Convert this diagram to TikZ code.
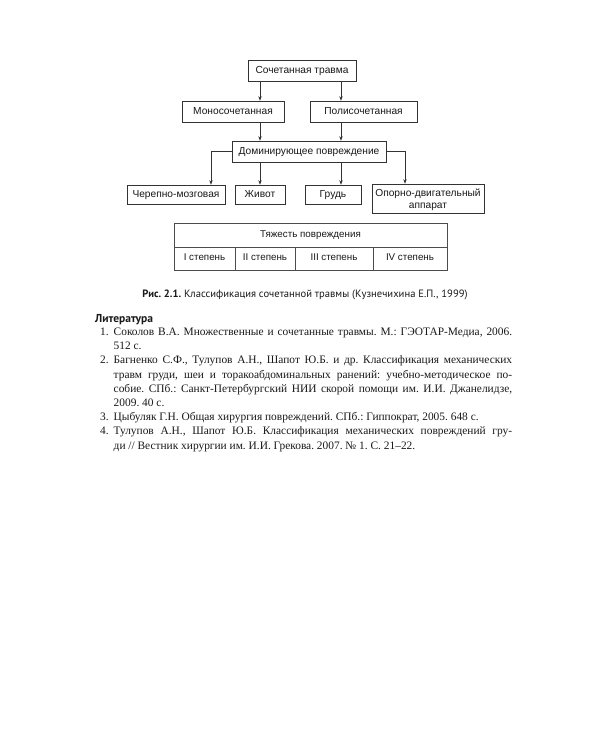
\documentclass[tikz,border=0pt]{standalone}
\usepackage{fontspec}
\setmainfont{Liberation Serif}
\newfontfamily\diagfont{Liberation Sans}
\newfontfamily\capfont{PT Sans}
\usetikzlibrary{arrows.meta}
\frenchspacing
\newcommand\litnum[1]{\makebox[13.5pt][l]{#1}}
\newcommand\litjust[1]{\makebox[398.5pt][s]{#1}}
\begin{document}
\begin{tikzpicture}[x=1pt,y=-1pt,
  box/.style={draw=black!80, line width=0.6pt, inner sep=0pt, font=\diagfont\fontsize{10.2}{12}\selectfont, text=black!90, text height=7.3pt, text depth=2.2pt},
  arr/.style={draw=black!80, line width=0.6pt, -{Stealth[length=4.5pt,width=3.4pt]}},
  cell/.style={draw=black!70, line width=0.6pt, inner sep=0pt, font=\diagfont\fontsize{9.8}{11}\selectfont, text=black!90, text height=7pt, text depth=2.1pt}]
\useasboundingbox[fill=white] (0,0) rectangle (600,750);
% diagram boxes
\node[box, minimum width=108pt, minimum height=21pt] (top) at (302,70.5) {Сочетанная травма};
\node[box, minimum width=102pt, minimum height=21pt] (mono) at (233,111.5) {Моносочетанная};
\node[box, minimum width=107pt, minimum height=21pt] (poli) at (363.5,111.5) {Полисочетанная};
\node[box, minimum width=154pt, minimum height=21pt] (dom) at (309,151.5) {Доминирующее повреждение};
\node[box, minimum width=98pt, minimum height=19pt] (cher) at (176,194.5) {Черепно-мозговая};
\node[box, minimum width=50pt, minimum height=19pt] (zhiv) at (260,194.5) {Живот};
\node[box, minimum width=56pt, minimum height=19pt] (grud) at (333,194.5) {Грудь};
\node[box, text height=, text depth=, align=center, minimum width=112pt, minimum height=29pt] (opora) at (428,198.5) {\rule{0pt}{11pt}Опорно-двигательный\\аппарат};
% connector columns
\coordinate (xa) at (260,0);
\coordinate (xb) at (341,0);
\coordinate (xl) at (211,0);
\coordinate (xr) at (405,0);
\draw[arr] (top.south -| xa) -- (mono.north -| xa);
\draw[arr] (top.south -| xb) -- (poli.north -| xb);
\draw[arr] (mono.south -| xa) -- (dom.north -| xa);
\draw[arr] (poli.south -| xb) -- (dom.north -| xb);
\draw[arr] (dom.south -| xa) -- (zhiv.north -| xa);
\draw[arr] (dom.south -| xb) -- (grud.north -| xb);
\draw[arr] (dom.west) -| (cher.north -| xl);
\draw[arr] (dom.east) -| (opora.north -| xr);
% severity table
\node[cell, minimum width=273pt, minimum height=24pt] (sev) at (310.5,235) {Тяжесть повреждения};
\node[cell, minimum width=61pt, minimum height=23pt] (s1) at (204.5,258.5) {I степень};
\node[cell, minimum width=60pt, minimum height=23pt] (s2) at (265,258.5) {II степень};
\node[cell, minimum width=78pt, minimum height=23pt] (s3) at (334,258.5) {III степень};
\node[cell, minimum width=74pt, minimum height=23pt] (s4) at (410,258.5) {IV степень};
% caption
\node[anchor=base, inner sep=0pt, font=\capfont\fontsize{10.6}{12}\selectfont, text=black!90] (cap) at (305,297.5) {\textbf{Рис. 2.1.} Классификация сочетанной травмы (Кузнечихина Е.П., 1999)};
% literature
\node[anchor=base west, inner sep=0pt, font=\capfont\bfseries\fontsize{11.5}{13}\selectfont, text=black!90] (lith) at (95,322.3) {Литература};
\node[anchor=base west, inner sep=0pt, text=black!90] (lit) at (100,335.5) {\parbox[t]{420pt}{\fontsize{11.4}{14.2}\selectfont
\litnum{1.}\litjust{Соколов В.А. Множественные и сочетанные травмы. М.: ГЭОТАР-Медиа, 2006.}\\
\litnum{}512 с.\\
\litnum{2.}\litjust{Багненко С.Ф., Тулупов А.Н., Шапот Ю.Б. и др. Классификация механических}\\
\litnum{}\litjust{травм груди, шеи и торакоабдоминальных ранений: учебно-методическое по-}\\
\litnum{}\litjust{собие. СПб.: Санкт-Петербургский НИИ скорой помощи им. И.И. Джанелидзе,}\\
\litnum{}2009. 40 с.\\
\litnum{3.}Цыбуляк Г.Н. Общая хирургия повреждений. СПб.: Гиппократ, 2005. 648 с.\\
\litnum{4.}\litjust{Тулупов А.Н., Шапот Ю.Б. Классификация механических повреждений гру-}\\
\litnum{}ди // Вестник хирургии им. И.И. Грекова. 2007. № 1. С. 21–22.}};
\end{tikzpicture}
\end{document}
